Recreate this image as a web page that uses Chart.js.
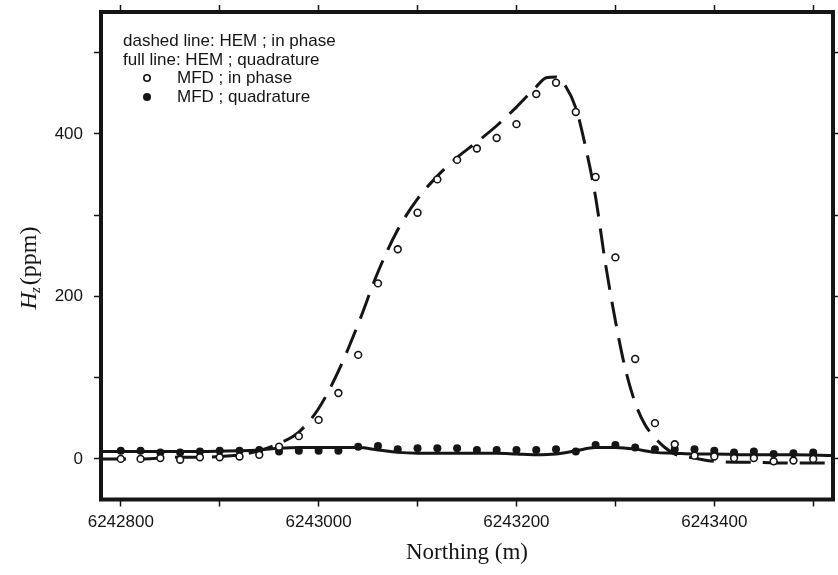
<!DOCTYPE html>
<html><head><meta charset="utf-8">
<script src="https://cdn.jsdelivr.net/npm/chart.js@4/dist/chart.umd.min.js"></script>
<style>html,body{margin:0;padding:0;background:#fff}#wrap{width:838px;height:575px}</style>
</head><body><div id="wrap"><canvas id="c" width="838" height="575"></canvas></div>
<script>
// MFD measurements (Northing in m, Hz in ppm)
const mfdNorthing = [6242800,6242820,6242840,6242860,6242880,6242900,6242920,6242940,6242960,6242980,
  6243000,6243020,6243040,6243060,6243080,6243100,6243120,6243140,6243160,6243180,
  6243200,6243220,6243240,6243260,6243280,6243300,6243320,6243340,6243360,6243380,
  6243400,6243420,6243440,6243460,6243480,6243500];
const mfdInPhase = [0,0,1,-1,2,2,3,5,15,28,48,81,128,216,258,303,344,368,382,395,412,449,463,427,347,248,123,44,18,4,3,1,1,-3,-2,0];
const mfdQuadrature = [10,10,8,8,9,10,10,11,9,10,10,10,15,16,12,13,13,13,11,11,11,11,12,9,17,17,14,12,12,12,10,8,9,6,7,8];

// HEM model curves
const hemInPhaseNorthing = [6242780,6242800,6242820,6242840,6242860,6242880,6242900,6242920,6242940,6242960,6242980,
  6243000,6243020,6243040,6243060,6243080,6243100,6243120,6243140,6243160,6243180,6243200,6243220,6243230,6243240,
  6243250,6243260,6243270,6243280,6243290,6243300,6243310,6243320,6243330,6243340,6243350,6243360,6243380,6243400,
  6243420,6243440,6243460,6243480,6243500,6243520];
const hemInPhase = [0,0,0,1,2,2,3,5,10,19,33,62,108,166,230,282,320,348,371,390,410,433,458,469,470,
  458,432,383,322,240,170,111,69,42,26,14,6,1,-3,-4,-4,-5,-5,-5,-5];
const hemQuadNorthing = [6242780,6242800,6242840,6242880,6242920,6242940,6242960,6242980,6243000,6243020,6243040,
  6243060,6243080,6243100,6243140,6243180,6243200,6243220,6243240,6243260,6243280,6243300,6243320,6243340,
  6243360,6243380,6243400,6243440,6243480,6243520];
const hemQuadrature = [9,9,9,9,10,11,13,14,14,14,14,11,8,7,7,7,6,5,6,10,14,14,12,8,7,6,6,5,5,4];

// axes
const xMin = 6242780, xMax = 6243520;
const xTicks = [6242800,6242900,6243000,6243100,6243200,6243300,6243400,6243500];
const xTickLabels = ['6242800','','6243000','','6243200','','6243400',''];
const yMin = -50, yMax = 550;
const yTicks = [0,100,200,300,400,500];
const yTickLabels = ['0','','200','','400',''];
const legendLines = ['dashed line: HEM ; in phase', 'full line: HEM ; quadrature', 'MFD ; in phase', 'MFD ; quadrature'];
const xTitle = 'Northing (m)';

const pts = (xs, ys) => xs.map((x, i) => ({x, y: ys[i]}));
const SANS = '"Liberation Sans", Arial, Helvetica, sans-serif';
const SERIF = '"Liberation Serif", "Times New Roman", serif';
const INK = '#151515';

const extras = {
  id: 'extras',
  afterDatasetsDraw(chart) {
    const {ctx, chartArea: a} = chart;
    ctx.save();
    ctx.strokeStyle = INK; ctx.lineWidth = 4;
    ctx.strokeRect(a.left, a.top, a.right - a.left, a.bottom - a.top);
    ctx.restore();
  },
  afterDraw(chart) {
    const ctx = chart.ctx;
    ctx.save();
    // legend
    ctx.fillStyle = INK;
    ctx.font = '17px ' + SANS;
    ctx.textBaseline = 'alphabetic';
    ctx.textAlign = 'left';
    ctx.fillText(legendLines[0], 123, 46);
    ctx.fillText(legendLines[1], 123, 64.5);
    ctx.fillText(legendLines[2], 177, 83);
    ctx.fillText(legendLines[3], 177, 101.5);
    ctx.beginPath(); ctx.arc(147, 78, 3.2, 0, Math.PI * 2);
    ctx.fillStyle = '#fff'; ctx.fill(); ctx.lineWidth = 1.6; ctx.strokeStyle = INK; ctx.stroke();
    ctx.beginPath(); ctx.arc(147, 97, 4, 0, Math.PI * 2);
    ctx.fillStyle = INK; ctx.fill();
    // y title: H_z (ppm)
    ctx.translate(28, 268);
    ctx.rotate(-Math.PI / 2);
    const fH = 'italic 24px ' + SERIF, fZ = 'italic 15px ' + SERIF, fP = '24px ' + SERIF;
    ctx.font = fH; const wH = ctx.measureText('H').width;
    ctx.font = fZ; const wZ = ctx.measureText('z').width;
    ctx.font = fP; const wP = ctx.measureText('(ppm)').width;
    let x0 = -(wH + wZ + 1 + wP) / 2;
    ctx.fillStyle = INK;
    ctx.font = fH; ctx.fillText('H', x0, 8);
    ctx.font = fZ; ctx.fillText('z', x0 + wH - 1, 12);
    ctx.font = fP; ctx.fillText('(ppm)', x0 + wH + wZ + 1, 8);
    ctx.restore();
  }
};

const tickGrid = {drawOnChartArea: false, drawTicks: true, tickLength: 7, tickColor: INK, tickWidth: 1.5};
const setTicks = (vals, labels) => s => { s.ticks = vals.map((v, i) => ({value: v, label: labels ? labels[i] : ''})); };
const fixSize = (prop, size) => s => {
  s[prop] = size;
  s.paddingTop = 0; s.paddingBottom = 0; s.paddingLeft = 0; s.paddingRight = 0;
};

new Chart(document.getElementById('c'), {
  type: 'line',
  data: {
    datasets: [
      {label: 'MFD ; in phase', data: pts(mfdNorthing, mfdInPhase), showLine: false,
       pointRadius: 3.4, pointBorderWidth: 1.6, pointBackgroundColor: '#fff', pointBorderColor: INK, order: 0},
      {label: 'MFD ; quadrature', data: pts(mfdNorthing, mfdQuadrature), showLine: false,
       pointRadius: 4, pointBorderWidth: 0, pointBackgroundColor: INK, pointBorderColor: INK, order: 1},
      {label: 'HEM ; in phase', data: pts(hemInPhaseNorthing, hemInPhase), borderColor: INK, borderWidth: 3,
       borderDash: [25, 12], pointRadius: 0, cubicInterpolationMode: 'monotone', fill: false, order: 2},
      {label: 'HEM ; quadrature', data: pts(hemQuadNorthing, hemQuadrature), borderColor: INK, borderWidth: 3,
       pointRadius: 0, cubicInterpolationMode: 'monotone', fill: false, order: 3}
    ]
  },
  options: {
    responsive: false, animation: false, devicePixelRatio: 1,
    layout: {padding: 0, autoPadding: false},
    plugins: {legend: {display: false}, tooltip: {enabled: false}},
    scales: {
      x: {type: 'linear', position: 'bottom', min: xMin, max: xMax,
          afterBuildTicks: setTicks(xTicks, xTickLabels),
          ticks: {autoSkip: false, maxRotation: 0, minRotation: 0, color: INK,
                  font: {family: SANS, size: 17}, padding: 6,
                  callback: (v, i) => xTickLabels[i]},
          grid: tickGrid, border: {display: false},
          title: {display: true, text: xTitle, color: INK, font: {family: SERIF, size: 23}, padding: {top: 0, bottom: 8}},
          afterFit: fixSize('height', 75.5)},
      x2: {type: 'linear', position: 'top', min: xMin, max: xMax,
           afterBuildTicks: setTicks(xTicks),
           ticks: {display: false},
           grid: tickGrid, border: {display: false},
           afterFit: fixSize('height', 12)},
      y: {type: 'linear', position: 'left', min: yMin, max: yMax,
          afterBuildTicks: setTicks(yTicks, yTickLabels),
          ticks: {autoSkip: false, color: INK, font: {family: SANS, size: 17}, padding: 11,
                  callback: (v, i) => yTickLabels[i]},
          grid: tickGrid, border: {display: false},
          afterFit: fixSize('width', 101)},
      y2: {type: 'linear', position: 'right', min: yMin, max: yMax,
           afterBuildTicks: setTicks(yTicks),
           ticks: {display: false},
           grid: tickGrid, border: {display: false},
           afterFit: fixSize('width', 5)}
    }
  },
  plugins: [extras]
});
</script></body></html>
